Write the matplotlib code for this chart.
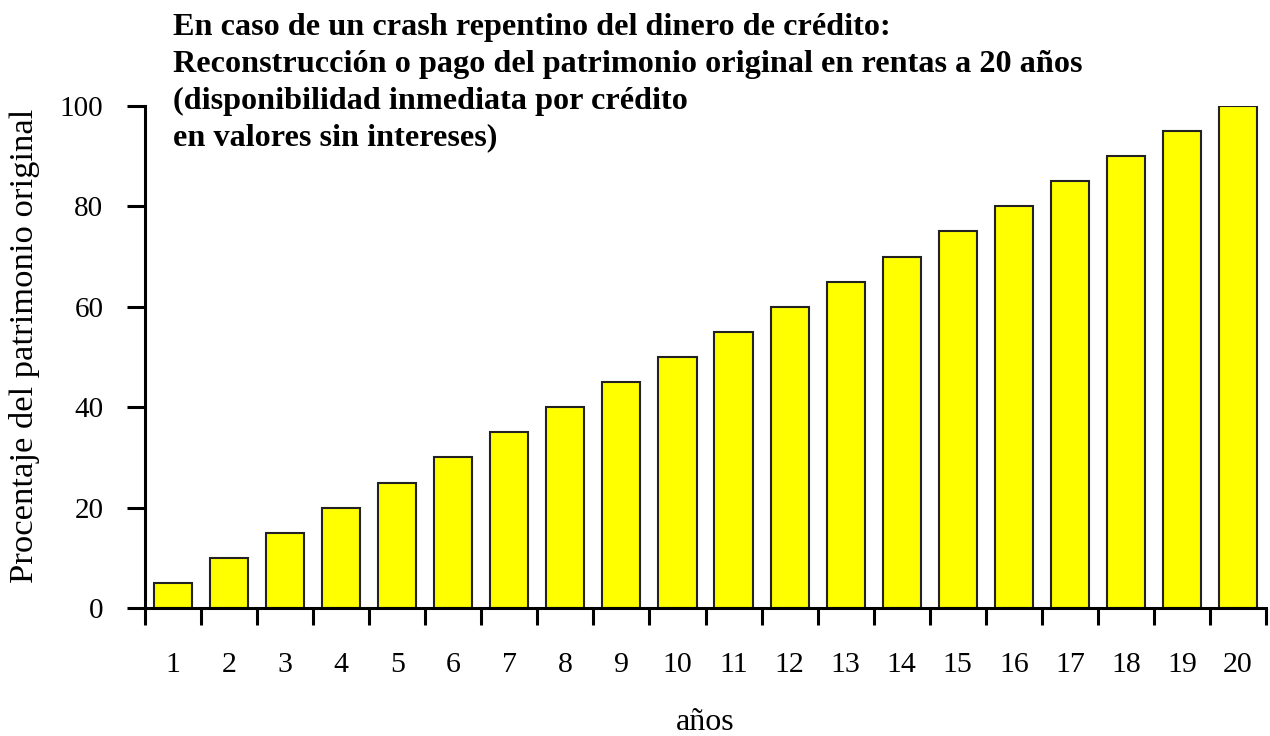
import matplotlib
matplotlib.use("Agg")
import matplotlib.pyplot as plt

years = list(range(1, 21))
percent = [5, 10, 15, 20, 25, 30, 35, 40, 45, 50, 55, 60, 65, 70, 75, 80, 85, 90, 95, 100]
title_lines = [
    "En caso de un crash repentino del dinero de crédito:",
    "Reconstrucción o pago del patrimonio original en rentas a 20 años",
    "(disponibilidad inmediata por crédito",
    "en valores sin intereses)",
]
yticks = [0, 20, 40, 60, 80, 100]

plt.rcParams['font.family'] = ['Liberation Serif', 'DejaVu Serif']

fig = plt.figure(figsize=(12.7, 7.36), dpi=100)
ax = fig.add_axes([145/1270, 1 - 608/736, (1266-145)/1270, (608-106)/736])

xpos = list(range(len(years)))
ax.bar(xpos, percent, width=0.68, color='#ffff00', edgecolor='#222222', linewidth=1.5, zorder=2)

ax.set_xlim(-0.5, len(years) - 0.5)
ax.set_ylim(0, 100)
ax.set_yticks(yticks)
ax.set_yticklabels([str(v) for v in yticks], fontsize=21)

# category labels (no ticks) and boundary ticks
ax.set_xticks(xpos)
ax.set_xticklabels([str(y) for y in years], fontsize=21.5)
ax.tick_params(axis='x', which='major', length=0, pad=32)
ax.set_xticks([i - 0.5 for i in range(len(years) + 1)], minor=True)
ax.tick_params(axis='x', which='minor', length=12, width=2.2, direction='out', color='black')
ax.tick_params(axis='y', length=13, width=2.2, direction='out', pad=17)

for s in ['top', 'right']:
    ax.spines[s].set_visible(False)
for s in ['left', 'bottom']:
    ax.spines[s].set_linewidth(2.2)

ax.set_ylabel("Procentaje del patrimonio original", fontsize=24.8, labelpad=14)
ax.yaxis.label.set_y(0.522)
ax.set_xlabel("años", fontsize=23, labelpad=21)

fig.text(173/1270, 1 - 13/736, "\n".join(title_lines), fontsize=23.2, fontweight='bold',
         ha='left', va='top', linespacing=1.35)

fig.savefig("out.png", dpi=100)
